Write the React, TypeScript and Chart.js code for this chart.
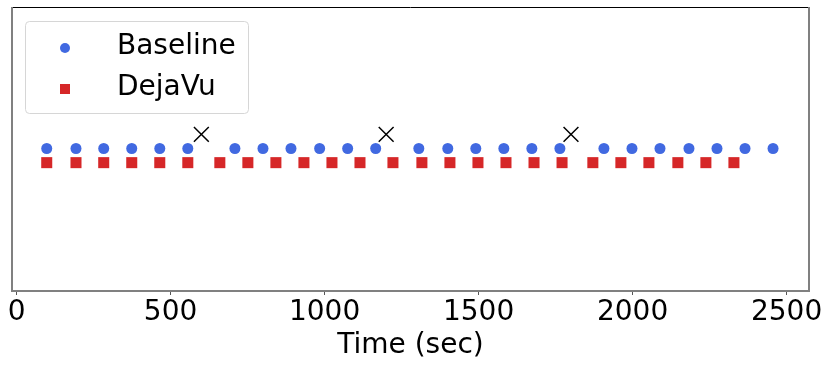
import React, { useEffect, useRef } from "react";
import { Chart, registerables } from "chart.js";

Chart.register(...registerables);

const baselineX = [98, 193, 283, 374, 465, 556, 709, 800, 891, 984, 1075, 1166, 1306, 1400, 1491, 1582, 1673, 1764, 1907, 1998, 2089, 2183, 2274, 2365, 2456];
const dejavuX = [98, 193, 283, 374, 465, 556, 660, 751, 842, 933, 1024, 1115, 1222, 1316, 1407, 1498, 1589, 1680, 1771, 1871, 1962, 2053, 2147, 2238, 2329];
const failureX = [600, 1200, 1800];
const baselineLevel = 0.5;
const dejavuLevel = 0.45;
const failureLevel = 0.55;
const xTicks = [0, 500, 1000, 1500, 2000, 2500];
const seriesNames = ["Baseline", "DejaVu"];
const xTitle = "Time (sec)";

const FONT = "'DejaVu Sans', sans-serif";
const BLUE = "#4169e1";
const RED = "#d62728";

const framePlugin = {
  id: "frameLegend",
  afterDraw(chart: any) {
    const { ctx, chartArea } = chart;
    const { left, right, top, bottom } = chartArea;
    ctx.save();
    ctx.strokeStyle = "#000";
    ctx.lineWidth = 1;
    ctx.beginPath();
    ctx.moveTo(left, top + 0.5);
    ctx.lineTo(right, top + 0.5);
    ctx.stroke();
    ctx.strokeStyle = "#808080";
    ctx.lineWidth = 2;
    ctx.beginPath();
    ctx.moveTo(left + 1, top);
    ctx.lineTo(left + 1, bottom + 1);
    ctx.lineTo(right - 1, bottom + 1);
    ctx.lineTo(right - 1, top);
    ctx.stroke();

    const lx = 25.5, ly = 21.5, lw = 223, lh = 92, r = 4;
    ctx.fillStyle = "rgba(255,255,255,0.8)";
    ctx.strokeStyle = "#d6d6d6";
    ctx.lineWidth = 1;
    ctx.beginPath();
    ctx.moveTo(lx + r, ly);
    ctx.lineTo(lx + lw - r, ly);
    ctx.arcTo(lx + lw, ly, lx + lw, ly + r, r);
    ctx.lineTo(lx + lw, ly + lh - r);
    ctx.arcTo(lx + lw, ly + lh, lx + lw - r, ly + lh, r);
    ctx.lineTo(lx + r, ly + lh);
    ctx.arcTo(lx, ly + lh, lx, ly + lh - r, r);
    ctx.lineTo(lx, ly + r);
    ctx.arcTo(lx, ly, lx + r, ly, r);
    ctx.closePath();
    ctx.fill();
    ctx.stroke();

    ctx.fillStyle = BLUE;
    ctx.beginPath();
    ctx.arc(65, 48, 5, 0, Math.PI * 2);
    ctx.fill();
    ctx.fillStyle = RED;
    ctx.fillRect(60, 84, 10, 10);

    ctx.fillStyle = "#000";
    ctx.font = `28px ${FONT}`;
    ctx.textBaseline = "middle";
    ctx.textAlign = "left";
    ctx.fillText(seriesNames[0], 117, 47);
    ctx.fillText(seriesNames[1], 117, 88);
    ctx.restore();
  },
};

export default function App() {
  const ref = useRef<HTMLCanvasElement | null>(null);
  useEffect(() => {
    document.body.style.margin = "0";
    const chart = new Chart(ref.current as HTMLCanvasElement, {
      type: "scatter",
      data: {
        datasets: [
          {
            label: seriesNames[0],
            data: baselineX.map((x) => ({ x, y: baselineLevel })),
            pointStyle: "circle",
            pointRadius: 5.5,
            backgroundColor: BLUE,
            borderWidth: 0,
          },
          {
            label: seriesNames[1],
            data: dejavuX.map((x) => ({ x, y: dejavuLevel })),
            pointStyle: "rect",
            pointRadius: 7.8,
            backgroundColor: RED,
            borderWidth: 0,
          },
          {
            label: "failure",
            data: failureX.map((x) => ({ x, y: failureLevel })),
            pointStyle: "crossRot",
            pointRadius: 10.5,
            borderColor: "#000",
            borderWidth: 1.5,
            backgroundColor: "#000",
          },
        ],
      },
      options: {
        animation: false,
        responsive: false,
        layout: { autoPadding: false, padding: { left: 11, top: 7, right: 21, bottom: 0 } },
        plugins: { legend: { display: false }, tooltip: { enabled: false } },
        scales: {
          y: { display: false, min: 0, max: 1 },
          x: {
            type: "linear",
            min: -18,
            max: 2576,
            afterFit: (s: any) => {
              s.height = 75;
              s.paddingLeft = 0;
              s.paddingRight = 0;
            },
            afterBuildTicks: (s: any) => {
              s.ticks = xTicks.map((v) => ({ value: v }));
            },
            border: { display: false },
            grid: {
              drawOnChartArea: false,
              drawTicks: true,
              tickLength: 5,
              color: "#555",
              tickWidth: 1,
            },
            ticks: {
              color: "#000",
              font: { family: FONT, size: 28 },
              padding: 1,
              maxRotation: 0,
              autoSkip: false,
              callback: (v: any) => String(v),
            },
            title: {
              display: true,
              text: xTitle,
              color: "#000",
              font: { family: FONT, size: 28 },
              padding: { top: 0, bottom: 2 },
            },
          },
        },
      },
      plugins: [framePlugin],
    });
    return () => chart.destroy();
  }, []);
  return (
    <div style={{ position: "absolute", left: 0, top: 0, width: 831, height: 365 }}>
      <canvas ref={ref} width={831} height={365} />
    </div>
  );
}
